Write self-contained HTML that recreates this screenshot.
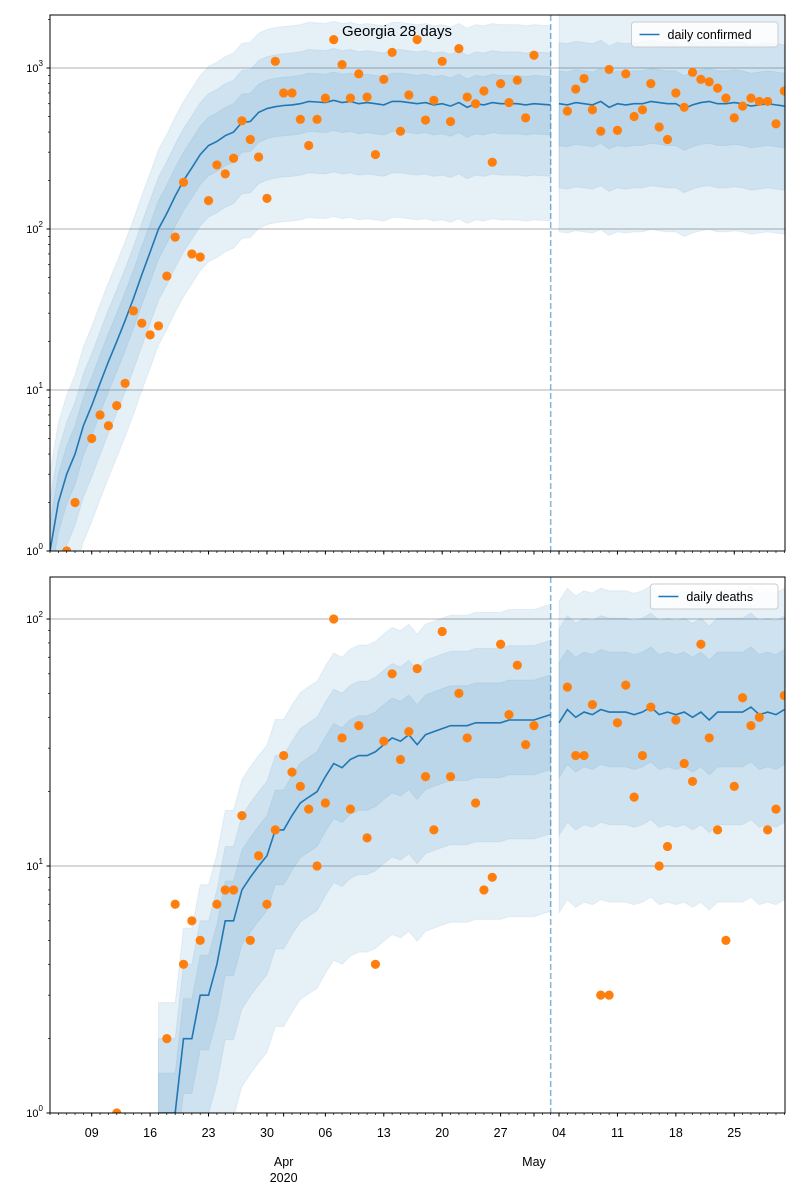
<!DOCTYPE html>
<html><head><meta charset="utf-8"><title>Georgia 28 days</title>
<style>
body{margin:0;background:#fff;}
svg{display:block;font-family:"Liberation Sans","DejaVu Sans",sans-serif;}
</style></head>
<body>
<svg id="chart" width="800" height="1200" viewBox="0 0 800 1200"></svg>
<script>
// ---- data ----
const startDateLabel = "2020-03-04";
const cutoffIndex = 60;
const confirmedObsIdx = [2,3,5,6,7,8,9,10,11,12,13,14,15,16,17,18,19,20,21,22,23,24,25,26,27,28,29,30,31,32,33,34,35,36,37,38,39,40,41,42,43,44,45,46,47,48,49,50,51,52,53,54,55,56,57,58];
const confirmedObs = [1,2,5,7,6,8,11,31,26,22,25,51,89,195,70,67,150,250,220,275,470,360,280,155,1100,700,700,480,330,480,650,1500,1050,650,920,660,290,850,1250,405,680,1500,475,630,1100,465,1320,660,600,720,260,800,610,840,490,1200];
const confirmedFutIdx = [62,63,64,65,66,67,68,69,70,71,72,73,74,75,76,77,78,79,80,81,82,83,84,85,86,87,88];
const confirmedFut = [540,740,860,550,405,980,410,920,500,550,800,430,360,700,570,940,850,820,750,650,490,580,650,620,620,450,720];
const confirmedMedianObs = [1,2,3,4,6,8,11,15,20,27,37,52,72,100,125,160,200,240,290,330,350,380,400,460,465,530,560,575,585,590,600,620,615,610,630,610,620,600,610,600,590,620,620,610,600,610,590,600,580,610,570,600,590,610,600,600,600,590,600,595,590];
const confirmedMedianFut = [600,590,610,600,590,620,570,600,590,600,600,620,610,600,600,560,590,610,620,600,600,610,600,580,590,600,590,580];
const deathsObsIdx = [8,14,15,16,17,18,20,21,22,23,24,25,26,27,28,29,30,31,32,33,34,35,36,37,38,39,40,41,42,43,44,45,46,47,48,49,50,51,52,53,54,55,56,57,58];
const deathsObs = [1,2,7,4,6,5,7,8,8,16,5,11,7,14,28,24,21,17,10,18,100,33,17,37,13,4,32,60,27,35,63,23,14,89,23,50,33,18,8,9,79,41,65,31,37];
const deathsFutIdx = [62,63,64,65,66,67,68,69,70,71,72,73,74,75,76,77,78,79,80,81,82,83,84,85,86,87,88];
const deathsFut = [53,28,28,45,3,3,38,54,19,28,44,10,12,39,26,22,79,33,14,5,21,48,37,40,14,17,49];
const deathsMedianStart = 13;
const deathsMedianObs = [1,1,1,2,2,3,3,4,6,6,8,9,10,11,14,14,16,18,19,20,23,26,25,27,28,28,29,31,33,32,34,31,34,35,36,37,37,37,38,38,38,38,39,39,39,39,40,41];
const deathsMedianFut = [38,43,40,42,41,43,42,42,42,41,42,44,41,42,41,42,40,42,39,42,42,42,42,44,41,42,41,43];
// band ratios (lower, upper) relative to median: inner, middle, outer
const confBandObs = [[0.65,1.5],[0.36,2.1],[0.19,3.1]];
const confBandFut = [[0.55,1.6],[0.3,2.4],[0.16,3.8]];
const deathBandObs = [[0.6,1.45],[0.33,2.0],[0.16,2.8]];
const deathBandFut = [[0.6,1.75],[0.35,2.4],[0.17,3.1]];
const xTickIdx = [5,12,19,26,33,40,47,54,61,68,75,82];
const xTickLabels = ["09","16","23","30","06","13","20","27","04","11","18","25"];
const monthIdx = [28,58];
const monthLabels = ["Apr","May"];

// ---- axes ----
const NS="http://www.w3.org/2000/svg";
const svg=document.getElementById('chart');
const X0=50,X1=785,IMAX=88.08;
function xs(i){return X0+(i/IMAX)*(X1-X0);}
const panels=[
 {top:15,bot:551,ppd:161,name:'confirmed'},
 {top:577,bot:1113,ppd:247,name:'deaths'}
];
function ys(p,v){return p.bot-Math.log10(v)*p.ppd;}
function el(tag,attrs,parent){const e=document.createElementNS(NS,tag);for(const k in attrs)e.setAttribute(k,attrs[k]);(parent||svg).appendChild(e);return e;}

function drawPanel(p,obsIdx,obs,futIdx,fut,medStart,medObs,medFut,bObs,bFut,label,pi){
  const g=el('g',{});
  
  
  const cid='clip'+pi;
  const cp=el('clipPath',{id:cid},g);
  el('rect',{x:X0,y:p.top,width:X1-X0,height:p.bot-p.top},cp);
  const plot=el('g',{'clip-path':'url(#'+cid+')'},g);
  // gridlines
  const maxDec=(p.bot-p.top)/p.ppd;
  for(let d=0;d<=Math.floor(maxDec);d++){
    const y=p.bot-d*p.ppd;
    const gl=el('line',{x1:X0,x2:X1,y1:y,y2:y,stroke:'#b0b0b0','stroke-width':1},plot);
    
    
  }
  // bands
  function band(start,meds,ratios,nm){
    for(let b=ratios.length-1;b>=0;b--){
      let up=[],lo=[];
      meds.forEach((m,k)=>{const i=start+k;up.push(xs(i)+','+ys(p,m*ratios[b][1]));lo.unshift(xs(i)+','+Math.min(p.bot+50,ys(p,Math.max(m*ratios[b][0],0.1))));});
      const poly=el('polygon',{points:up.concat(lo).join(' '),fill:'#1f77b4','fill-opacity':0.11,stroke:'#1f77b4','stroke-opacity':0.08},plot);
      
      
    }
  }
  band(medStart,medObs,bObs,'observed');
  band(61,medFut,bFut,'forecast');
  // median lines
  function line(start,meds,nm){
    const pts=meds.map((m,k)=>xs(start+k)+','+ys(p,m)).join(' ');
    const pl=el('polyline',{points:pts,fill:'none',stroke:'#1f77b4','stroke-width':1.6},plot);
    
    
  }
  line(medStart,medObs,'median-line-observed');
  line(61,medFut,'median-line-forecast');
  // dashed cutoff
  const dl=el('line',{x1:xs(cutoffIndex),x2:xs(cutoffIndex),y1:p.top,y2:p.bot,stroke:'#1f77b4','stroke-opacity':0.55,'stroke-width':1.5,'stroke-dasharray':'6,3'},plot);
  
  
  // points
  function pts(idx,vals,nm){
    idx.forEach((i,k)=>{const c=el('circle',{cx:xs(i),cy:ys(p,vals[k]),r:4.6,fill:'#ff7f0e'},plot);
      
      });
  }
  pts(obsIdx,obs,'observed-point');
  pts(futIdx,fut,'forecast-point');
  // frame
  const fr=el('rect',{x:X0,y:p.top,width:X1-X0,height:p.bot-p.top,fill:'none',stroke:'#000','stroke-width':1},g);
  
  
  // y ticks
  for(let d=0;d<=Math.floor(maxDec);d++){
    const y=p.bot-d*p.ppd;
    el('line',{x1:X0-3.5,x2:X0,y1:y,y2:y,stroke:'#000'},g);
    const t=el('text',{x:X0-7,y:y+4,'font-size':11,'text-anchor':'end'},g);
    
    
    t.textContent='10';
    const s=el('tspan',{dy:-6,'font-size':8},t);s.textContent=String(d);
    for(let m=2;m<10;m++){const ym=y-Math.log10(m)*p.ppd;if(ym>=p.top)el('line',{x1:X0-2,x2:X0,y1:ym,y2:ym,stroke:'#000','stroke-width':0.7},g);}
  }
  // x ticks
  for(let i=0;i<=88;i++){el('line',{x1:xs(i),x2:xs(i),y1:p.bot,y2:p.bot+2,stroke:'#000','stroke-width':0.7},g);}
  xTickIdx.forEach(i=>el('line',{x1:xs(i),x2:xs(i),y1:p.bot,y2:p.bot+3.5,stroke:'#000'},g));
  monthIdx.forEach(i=>el('line',{x1:xs(i),x2:xs(i),y1:p.bot,y2:p.bot+3.5,stroke:'#000'},g));
  // legend
  const lw=label.length*6.3+52;
  const lg=el('g',{},g);
  
  
  el('rect',{x:X1-7-lw,y:p.top+7,width:lw,height:25,rx:3,fill:'#fff','fill-opacity':0.8,stroke:'#ccc'},lg);
  el('line',{x1:X1-lw+1,x2:X1-lw+21,y1:p.top+19.5,y2:p.top+19.5,stroke:'#1f77b4','stroke-width':1.6},lg);
  const lt=el('text',{x:X1-lw+29,y:p.top+24,'font-size':12.5},lg);lt.textContent=label;
}
drawPanel(panels[0],confirmedObsIdx,confirmedObs,confirmedFutIdx,confirmedFut,0,confirmedMedianObs,confirmedMedianFut,confBandObs,confBandFut,'daily confirmed',0);
drawPanel(panels[1],deathsObsIdx,deathsObs,deathsFutIdx,deathsFut,deathsMedianStart,deathsMedianObs,deathsMedianFut,deathBandObs,deathBandFut,'daily deaths',1);

const title=el('text',{x:397,y:36,'font-size':15,'text-anchor':'middle'});


title.textContent='Georgia 28 days';

xTickIdx.forEach((i,k)=>{const t=el('text',{x:xs(i),y:1137,'font-size':12.5,'text-anchor':'middle'});
  
  
  t.textContent=xTickLabels[k];});
monthIdx.forEach((i,k)=>{const t=el('text',{x:xs(i),y:1166,'font-size':12.5,'text-anchor':'middle'});
  
  
  t.textContent=monthLabels[k];});
const yr=el('text',{x:xs(monthIdx[0]),y:1182,'font-size':12.5,'text-anchor':'middle'});


yr.textContent='2020';
</script>
</body></html>
